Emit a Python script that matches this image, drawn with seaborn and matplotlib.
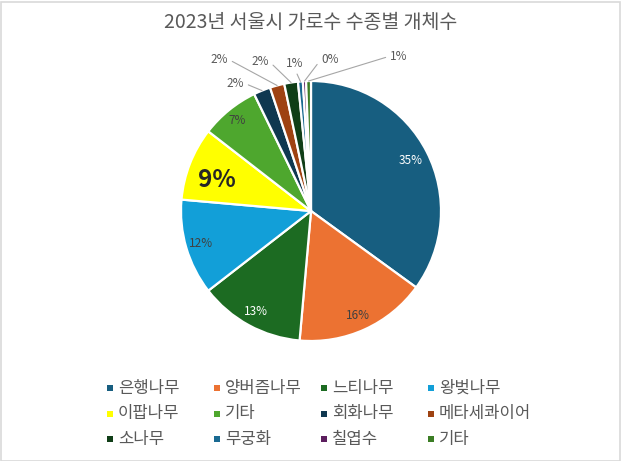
import numpy as np
import matplotlib
matplotlib.use("Agg")
import matplotlib.pyplot as plt
import seaborn as sns
from matplotlib.patches import Rectangle

species = ["은행나무", "양버즘나무", "느티나무", "왕벚나무", "이팝나무", "기타",
           "회화나무", "메타세콰이어", "소나무", "무궁화", "칠엽수", "기타"]
shares = [35.0, 16.4, 13.1, 11.9, 9.1, 7.3, 2.1, 1.8, 1.7, 0.6, 0.4, 0.6]
colors = ["#175E80", "#EC7232", "#1C6B22", "#129FD8", "#FFFF00", "#4EA72E",
          "#0F3850", "#9E4212", "#103E17", "#1A6A92", "#5C1E5E", "#3B7D24"]
title = "2023년 서울시 가로수 수종별 개체수"

sns.set_theme(style="white")
plt.rcParams['font.family'] = ['Noto Sans CJK KR', 'DejaVu Sans']

W, H = 622, 461
fig = plt.figure(figsize=(W / 100, H / 100), dpi=100)
fig.patch.set_facecolor("white")
fig.add_artist(Rectangle((0.5 / W, 0.5 / H), (W - 3) / W, (H - 3) / H,
                         transform=fig.transFigure, fill=False,
                         edgecolor="#D9D9D9", lw=1.2))

cx, cy, R = 311, 211, 130
half = 150
ax = fig.add_axes([(cx - half) / W, 1 - (cy + half) / H, 2 * half / W, 2 * half / H])

wedges, _ = ax.pie(shares, colors=colors, startangle=90, counterclock=False,
                   radius=1.0, wedgeprops=dict(edgecolor="white", linewidth=1.6))
ax.set_xlim(-half / R, half / R)
ax.set_ylim(-half / R, half / R)
ax.set_aspect("equal")
ax.axis("off")

total = sum(shares)
pcts = [f"{v / total * 100:.0f}%" for v in shares]

inside_r = [0.86, 0.88, 0.88, 0.88, 0.78, 0.90]
inside_col = ["white", "#404040", "white", "#404040", "#404040", "#404040"]

def px2d(px, py):
    return ((px - cx) / R, (cy - py) / R)

outside_pos = [px2d(235, 83), px2d(219, 59), px2d(260, 61),
               px2d(295, 63), px2d(330, 59), px2d(399, 56)]
outside_rel = [(1, 0.5), (1, 0.5), (1, 0.5), (0.5, 0), (0, 0.5), (0, 0.5)]

for i, w in enumerate(wedges):
    mid = np.deg2rad((w.theta1 + w.theta2) / 2)
    if i < 6:
        r = inside_r[i]
        if i == 4:
            ax.text(r * np.cos(mid), r * np.sin(mid) - 6 / R, pcts[i], ha="center",
                    va="center", fontsize=17.5, fontweight="bold", color="#262626")
        else:
            ax.text(r * np.cos(mid), r * np.sin(mid), pcts[i], ha="center", va="center",
                    fontsize=8.5, color=inside_col[i])
    else:
        j = i - 6
        ax.annotate(pcts[i], xy=(1.0 * np.cos(mid), 1.0 * np.sin(mid)),
                    xytext=outside_pos[j], ha="center", va="center",
                    fontsize=8.5, color="#595959", annotation_clip=False,
                    arrowprops=dict(arrowstyle="-", color="#A6A6A6", lw=0.8,
                                    relpos=outside_rel[j], shrinkA=1, shrinkB=0))

fig.text(0.5, 1 - 22 / H, title, ha="center", va="center", fontsize=14, color="#595959")

for i, (lab, col) in enumerate(zip(species, colors)):
    c, r = i % 4, i // 4
    x = 110 + 107 * c
    y = 388 + 25.5 * r
    s = 6
    fig.add_artist(Rectangle(((x - s / 2) / W, 1 - (y + s / 2) / H), s / W, s / H,
                             transform=fig.transFigure, facecolor=col, edgecolor="none"))
    fig.text((x + 8) / W, 1 - y / H, lab, ha="left", va="center",
             fontsize=12, color="#595959")

fig.savefig("out.png", dpi=100, facecolor="white")
